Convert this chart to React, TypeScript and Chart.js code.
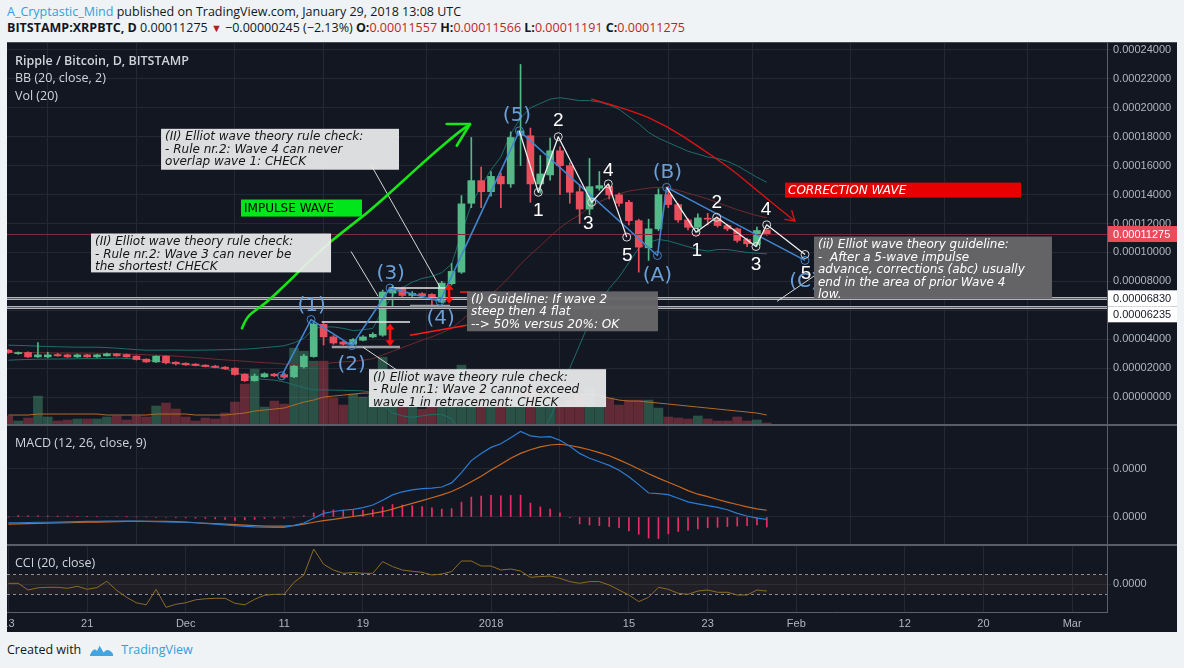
import React, { useEffect, useRef } from 'react';
import { Chart, registerables } from 'chart.js';

Chart.register(...registerables);
Chart.defaults.font.family = '"Liberation Sans", Arial, sans-serif';

// ---------------- DATA ----------------
// Day index: 0 = 1 Jan 2018. Daily candles from 13 Nov 2017 (-49) to 29 Jan 2018 (28).
// Prices in units of 1e-5 BTC.
const dayIndex: number[] = Array.from({ length: 78 }, (_, i) => i - 49);

const xTickDays = [-49, -41, -31, -21, -13, 0, 14, 22, 31, 42, 50, 59];
const xTickLabels = ['13', '21', 'Dec', '11', '19', '2018', '15', '23', 'Feb', '12', '20', 'Mar'];

const priceTicks = [0, 2, 4, 6, 8, 10, 12, 14, 16, 18, 20, 22, 24];
const macdTicks = [0, 2];
const cciTicks = [0];

const opens = [
  3.24, 3.0, 3.08, 2.78, 2.78, 2.94, 2.92, 2.78, 2.92, 2.78,
  2.85, 2.99, 2.94, 2.83, 2.62, 2.43, 2.83, 2.41, 2.34, 2.28,
  2.21, 2.14, 2.07, 2.0, 1.59, 1.13, 1.4, 1.59, 1.55, 1.4,
  2.09, 2.8, 5.03, 4.16, 3.81, 3.66, 3.93, 4.16, 4.28, 7.2,
  7.5, 7.03, 7.15, 7.1, 6.57, 7.84, 8.64, 13.4, 14.97, 14.2,
  15.26, 14.74, 18.1, 18.07, 14.74, 15.36, 17.03, 16.0, 14.2, 13.0,
  14.44, 14.55, 13.98, 13.47, 12.2, 10.32, 11.63, 14.0, 13.31, 12.25,
  11.74, 12.35, 12.32, 11.86, 11.63, 10.9, 10.55, 11.557,
];
const highs = [
  3.3, 3.12, 3.12, 3.77, 3.1, 3.02, 2.98, 2.98, 2.96, 2.95,
  3.05, 3.02, 2.98, 2.86, 2.65, 2.86, 2.86, 2.45, 2.37, 2.31,
  2.24, 2.2, 2.1, 2.03, 1.62, 1.6, 1.68, 1.63, 1.6, 2.2,
  2.95, 5.2, 5.1, 4.25, 3.88, 4.05, 4.25, 4.45, 7.4, 7.72,
  7.6, 7.3, 7.22, 7.15, 8.0, 9.24, 13.93, 17.95, 15.9, 15.6,
  15.5, 18.34, 23.0, 18.6, 16.7, 17.9, 17.3, 16.2, 14.7, 16.5,
  15.6, 14.7, 14.1, 13.6, 12.3, 12.3, 14.4, 14.55, 13.4, 12.35,
  12.67, 12.7, 12.45, 11.95, 11.7, 11.0, 11.75, 11.566,
];
const lows = [
  3.02, 2.96, 2.74, 2.74, 2.72, 2.82, 2.74, 2.74, 2.75, 2.75,
  2.82, 2.82, 2.75, 2.56, 2.4, 2.4, 2.3, 2.22, 2.19, 2.15,
  2.08, 2.02, 1.92, 1.52, 1.08, 1.1, 1.36, 1.42, 1.3, 1.35,
  2.0, 2.75, 3.6, 3.65, 3.6, 3.59, 3.88, 4.1, 4.2, 6.23,
  6.95, 6.95, 6.95, 6.2, 6.5, 7.75, 8.55, 13.1, 13.1, 13.9,
  13.1, 14.5, 16.0, 13.47, 14.1, 15.0, 14.0, 13.4, 12.0, 12.6,
  14.3, 13.7, 13.2, 11.9, 8.64, 9.45, 11.5, 13.1, 12.1, 11.55,
  11.4, 11.9, 11.75, 11.5, 10.7, 10.4, 10.41, 11.191,
];
const closes = [
  3.08, 3.08, 2.78, 2.92, 2.92, 2.85, 2.78, 2.92, 2.78, 2.92,
  2.99, 2.85, 2.78, 2.6, 2.43, 2.83, 2.37, 2.3, 2.23, 2.19,
  2.11, 2.05, 1.95, 1.56, 1.13, 1.45, 1.61, 1.47, 1.38, 2.14,
  2.83, 5.03, 4.16, 3.74, 3.66, 3.98, 4.16, 4.34, 7.26, 7.57,
  7.03, 7.17, 7.01, 6.74, 7.88, 8.69, 13.36, 14.97, 14.2, 15.26,
  14.74, 17.95, 18.4, 14.74, 15.43, 17.03, 16.0, 14.16, 13.0, 14.55,
  14.62, 13.98, 13.4, 12.2, 10.37, 11.63, 14.0, 13.31, 12.25, 11.74,
  12.39, 12.3, 11.86, 11.63, 10.83, 10.6, 11.52, 11.275,
];
// Volume (millions XRP, scaled units)
const volumes = [
  9, 4, 7, 29, 8, 4, 5, 6, 6, 6,
  8, 9, 5, 9, 8, 19, 22, 16, 8, 4,
  7, 6, 12, 23, 41, 56, 18, 24, 21, 77,
  74, 64, 64, 27, 20, 31, 28, 30, 68, 35,
  25, 28, 16, 20, 33, 45, 60, 36, 30, 30,
  24, 40, 46, 35, 24, 30, 20, 25, 30, 36,
  18, 27, 20, 25, 25, 25, 17, 8, 7, 6,
  9, 6, 4, 4, 8, 4, 5, 2,
];
const volumeMA = [
  10, 10, 10, 11, 11, 11, 11, 11, 11, 11,
  10, 10, 10, 10, 10, 11, 11, 11, 11, 10,
  10, 10, 10, 11, 12, 14, 15, 16, 17, 20,
  23, 25, 28, 29, 30, 31, 32, 32, 34, 35,
  35, 35, 34, 34, 35, 35, 36, 36, 35, 34,
  33, 31, 32, 32, 31, 31, 30, 30, 30, 31,
  30, 27, 25, 24, 24, 23, 22, 21, 20, 19,
  18, 17, 16, 15, 14, 13, 12, 10,
];
const bbUpper = [
  3.59, 3.57, 3.55, 3.52, 3.5, 3.48, 3.46, 3.45, 3.45, 3.45,
  3.42, 3.38, 3.33, 3.28, 3.24, 3.24, 3.25, 3.25, 3.24, 3.24,
  3.25, 3.26, 3.28, 3.3, 3.31, 3.36, 3.42, 3.48,
  3.55, 3.75, 4.05, 4.75, 4.85, 4.85, 4.75, 4.6, 4.65, 4.75,
  6.0, 7.0, 7.55, 7.95, 8.2, 8.35, 8.6, 9.2, 11.3, 13.3,
  14.6, 15.7, 16.6, 18.2, 19.3, 20.0, 20.3, 20.6, 20.7, 20.6,
  20.5, 20.5, 20.4, 20.2, 19.9, 19.4, 18.9, 18.3, 17.9, 17.6,
  17.3, 17.0, 16.8, 16.6, 16.5, 16.3, 16.0, 15.6, 15.2, 14.85,
];
const bbBasis = [
  3.1, 3.09, 3.08, 3.07, 3.06, 3.05, 3.05, 3.04, 3.04, 3.03,
  3.02, 3.0, 2.98, 2.95, 2.92, 2.9, 2.87, 2.83, 2.78, 2.73,
  2.68, 2.62, 2.57, 2.52, 2.48, 2.42, 2.38, 2.34,
  2.28, 2.24, 2.21, 2.22, 2.3, 2.38, 2.43, 2.47, 2.55, 2.65,
  2.91, 3.16, 3.42, 3.68, 3.93, 4.17, 4.44, 4.75, 5.3, 5.9,
  6.5, 7.1, 7.7, 8.4, 9.2, 9.85, 10.45, 11.1, 11.7, 12.2,
  12.6, 13.1, 13.5, 13.8, 14.05, 14.25, 14.35, 14.45, 14.5, 14.45,
  14.3, 14.1, 13.9, 13.7, 13.45, 13.2, 12.95, 12.75, 12.55, 12.4,
];
const bbLower = [
  2.55, 2.58, 2.6, 2.62, 2.63, 2.63, 2.64, 2.65, 2.66, 2.66,
  2.67, 2.69, 2.67, 2.62, 2.55, 2.48, 2.4, 2.32, 2.25, 2.2,
  2.12, 2.05, 1.95, 1.75, 1.45, 1.3, 1.22, 1.17,
  1.05, 0.85, 0.65, 0.5, 0.5, 0.48, 0.47, 0.45, 0.43, 0.3,
  -0.5, -1.1, -1.3, -1.4, -1.3, -1.2, -1.2, -1.5, -2.5, -3.5,
  -4.0, -4.3, -4.6, -5.0, -4.8, -3.5, -2.5, -1.5, 0.3, 2.0,
  3.6, 5.2, 6.6, 7.5, 8.3, 9.3, 10.3, 10.7, 10.9, 10.8,
  10.6, 10.4, 10.2, 10.1, 10.2, 10.2, 10.1, 10.0, 9.95, 9.9,
];
// MACD (units of 1e-5)
const macdLine = [
  -0.24, -0.24, -0.23, -0.22, -0.22, -0.21, -0.2, -0.19, -0.18, -0.18,
  -0.17, -0.17, -0.17, -0.17, -0.18, -0.19, -0.2, -0.21, -0.22, -0.24,
  -0.27, -0.3, -0.33, -0.36, -0.39, -0.41, -0.42, -0.43, -0.43, -0.35,
  -0.25, -0.05, 0.15, 0.23, 0.28, 0.32, 0.39, 0.5, 0.7, 0.92,
  1.05, 1.13, 1.18, 1.2, 1.25, 1.42, 1.85, 2.35, 2.65, 2.9,
  3.05, 3.3, 3.56, 3.38, 3.33, 3.35, 3.2, 2.95, 2.65, 2.45,
  2.3, 2.15, 1.95, 1.68, 1.35, 1.0, 0.97, 0.93, 0.78, 0.63,
  0.55, 0.47, 0.4, 0.3, 0.15, 0.04, -0.05, -0.1,
];
const macdSignal = [
  -0.3, -0.29, -0.28, -0.27, -0.26, -0.25, -0.24, -0.23, -0.22, -0.21,
  -0.2, -0.19, -0.18, -0.18, -0.18, -0.18, -0.18, -0.19, -0.21, -0.24,
  -0.26, -0.28, -0.3, -0.32, -0.34, -0.36, -0.38, -0.38, -0.38, -0.36,
  -0.3, -0.22, -0.15, -0.1, -0.04, 0.02, 0.08, 0.15, 0.22, 0.33,
  0.45, 0.57, 0.68, 0.8, 0.92, 1.06, 1.25, 1.47, 1.7, 1.96,
  2.2, 2.45, 2.65, 2.8, 2.92, 3.0, 3.03, 2.98, 2.9, 2.8,
  2.68, 2.55, 2.38, 2.2, 2.0, 1.8, 1.62, 1.45, 1.28, 1.1,
  0.95, 0.85, 0.73, 0.62, 0.52, 0.42, 0.34, 0.28,
];
const macdHist = [
  0.0, 0.06, 0.05, 0.05, 0.04, 0.04, 0.04, 0.03, 0.03, 0.03,
  0.02, 0.02, 0.01, 0.0, 0.0, -0.01, -0.02, -0.03, -0.04, -0.05,
  -0.06, -0.08, -0.1, -0.14, -0.12, -0.1, -0.06, -0.05, -0.05, -0.01,
  0.05, 0.17, 0.28, 0.3, 0.29, 0.27, 0.28, 0.3, 0.42, 0.52,
  0.5, 0.47, 0.43, 0.38, 0.33, 0.35, 0.62, 0.83, 0.87, 0.9,
  0.88, 0.9, 0.91, 0.58, 0.42, 0.33, 0.17, -0.03, -0.29, -0.33,
  -0.36, -0.4, -0.45, -0.58, -0.72, -0.88, -0.9, -0.7, -0.6, -0.55,
  -0.5, -0.45, -0.43, -0.4, -0.38, -0.36, -0.33, -0.42,
];
const cciValues = [
  10, 10, -57, -35, -30, -30, -40, -20, -50, -33,
  30, -60, -130, -185, -205, -50, -230, -200, -185, -155,
  -145, -140, -140, -190, -205, -150, -110, -100, -100, 20,
  93, 353, 200, 143, 110, 117, 110, 110, 227, 177,
  143, 130, 120, 93, 103, 127, 233, 233, 183, 183,
  143, 153, 133, 70, 77, 83, 60, 27, 10, 27,
  27, -7, -57, -107, -173, -130, -30, -50, -90, -100,
  -67, -57, -80, -80, -107, -107, -57, -67,
];
const cciUpperBand = 100;
const cciLowerBand = -100;

const lastPrice = 11.275;
const levelLines = [6.83, 6.235];

// ---------------- ANNOTATIONS (data coordinates: [day, price]) ----------------
const impulsePath: number[][] = [
  [-21.25, 1.47], [-18.27, 5.36], [-14.14, 3.56], [-10.25, 7.54], [-5.18, 6.62],
  [2.88, 18.41], [16.9, 9.79], [17.83, 14.5], [31.88, 9.45],
];
const subWavesA: number[][] = [
  [2.88, 18.41], [4.8, 14.16], [6.83, 18.0], [10.22, 13.47], [11.91, 14.74], [13.78, 11.06],
];
const subWavesC: number[][] = [
  [17.83, 14.5], [20.81, 11.4], [22.91, 12.43], [26.9, 10.41], [27.99, 11.91], [31.88, 9.86],
];
const impulseLabels: [string, number, number][] = [
  ['(1)', -18.21, 6.3], ['(2)', -14.14, 2.21], ['(3)', -10.18, 8.53], ['(4)', -5.11, 5.38],
  ['(5)', 2.64, 19.45], ['(A)', 16.89, 8.41], ['(B)', 17.9, 15.54], ['(C)', 31.78, 8.0],
];
const subLabels: [string, number, number][] = [
  ['1', 4.8, 12.9], ['2', 6.83, 19.1], ['3', 9.88, 11.98], ['4', 11.91, 15.66], ['5', 13.84, 9.79],
  ['1', 20.88, 10.14], ['2', 22.91, 13.47], ['3', 26.9, 9.17], ['4', 27.92, 12.94], ['5', 31.98, 8.53],
];
const greenArrowPath: number[][] = [
  [-25.28, 4.76], [-24.87, 5.45], [-24.16, 5.88], [-22.74, 6.57], [-20.41, 8.07], [-19.39, 8.76],
  [-16.24, 10.83], [-12.62, 12.67], [-9.24, 14.76], [-5.89, 16.83], [-3.48, 18.21], [-2.13, 18.88],
];
const greenArrowHead: number[][] = [[-4.5, 18.88], [-2.13, 18.88], [-3.48, 17.38]];
const redArrowPath: number[][] = [
  [10.22, 20.6], [14.45, 19.79], [17.84, 18.76], [21.22, 17.26], [24.6, 15.66],
  [26.8, 14.41], [28.66, 13.36], [30.86, 12.16],
];
const redArrowHead: number[][] = [[29.85, 12.28], [30.86, 12.16], [30.53, 12.9]];
const retraceArrows: number[][] = [[-10.25, 5.08, 3.52], [-4.26, 7.84, 6.46]];
const whiteRules: number[][] = [[-17.19, -8.22, 5.19], [-10.25, -4.16, 7.54]];
const grayRules: number[][] = [[-16.17, -9.24, 3.47], [-8.22, -4.16, 6.3]];
const redSegments: number[][][] = [[[-8.22, 4.28], [-2.47, 4.97]], [[-3.15, 7.26], [-2.13, 7.26]]];
const pointerLines: number[][][] = [
  [[-12.08, 15.93], [-5.18, 7.59]],
  [[-14.21, 10.07], [-11.47, 6.97]],
  [[-13.0, 3.45], [-9.54, 1.86]],
  [[32.89, 8.41], [29.04, 6.62]],
];
const noteBoxes = [
  { from: [-33.5, 18.55], to: [-9.34, 15.72], dark: false,
    text: ['(II) Elliot wave theory rule check:', '- Rule nr.2: Wave 4 can never', 'overlap wave 1: CHECK'] },
  { from: [-40.61, 11.31], to: [-16.24, 8.62], dark: false,
    text: ['(II) Elliot wave theory rule check:', '- Rule nr.2: Wave 3 can never be', 'the shortest! CHECK'] },
  { from: [-12.39, 1.93], to: [11.68, -0.69], dark: false,
    text: ['(I) Elliot wave theory rule check:', '- Rule nr.1: Wave 2 cannot exceed', 'wave 1 in retracement: CHECK'] },
  { from: [-2.44, 7.31], to: [16.95, 4.55], dark: true,
    text: ['(I) Guideline: If wave 2', 'steep then 4 flat', '--> 50% versus 20%: OK'] },
  { from: [32.79, 11.1], to: [56.95, 6.83], dark: true,
    text: ['(ii) Elliot wave theory guideline:', '-  After a 5-wave impulse', 'advance, corrections (abc) usually', 'end in the area of prior Wave 4', 'low.'] },
];
const banners = [
  { from: [-25.38, 13.66], to: [-13.1, 12.48], label: 'IMPULSE WAVE', fill: '#00e61a', color: '#000000', italic: false },
  { from: [29.85, 14.83], to: [53.81, 13.79], label: 'CORRECTION WAVE', fill: '#e60000', color: '#ffffff', italic: true },
];

// ---------------- STYLE ----------------
const BG = '#131722';
const GRID = '#242833';
const AXIS = '#5d606b';
const TICK = '#b2b5be';
const GREEN = '#53b987';
const RED = '#eb4d5c';
const xMin = -49.14;
const xMax = 62.54;

const isUp = (i: number) => closes[i] >= opens[i];

function xScale(showLabels: boolean): any {
  return {
    type: 'linear',
    min: xMin,
    max: xMax,
    offset: false,
    afterBuildTicks: (s: any) => { s.ticks = xTickDays.map((v) => ({ value: v })); },
    afterFit: (s: any) => { s.paddingLeft = 0; s.paddingRight = 0; s.height = showLabels ? 20 : 0; },
    grid: { color: GRID, drawTicks: false },
    border: { display: showLabels, color: AXIS },
    ticks: {
      display: showLabels, autoSkip: false, maxRotation: 0, color: TICK, padding: 5,
      font: { size: 11 },
      callback: (v: any) => { const k = xTickDays.indexOf(Number(v)); return k >= 0 ? xTickLabels[k] : ''; },
    },
  };
}
function yScale(min: number, max: number, ticks: number[], fmt: (v: number) => string): any {
  return {
    type: 'linear', position: 'right', min, max,
    afterBuildTicks: (s: any) => { s.ticks = ticks.map((v) => ({ value: v })); },
    afterFit: (s: any) => { s.width = 70; s.paddingTop = 0; s.paddingBottom = 0; },
    grid: { color: GRID, drawTicks: true, tickLength: 4 },
    border: { display: true, color: AXIS },
    ticks: { color: TICK, padding: 2, font: { size: 11 }, callback: (v: any) => fmt(Number(v)) },
  };
}
const baseOptions = { responsive: false, animation: false as const, events: [] as any[], layout: { padding: 0 },
  plugins: { legend: { display: false }, tooltip: { enabled: false } } };

function paneTitle(lines: { text: string; bold?: boolean }[]) {
  return {
    id: 'paneTitle',
    afterDraw(chart: any) {
      const ctx = chart.ctx;
      ctx.save();
      ctx.fillStyle = '#d1d4dc';
      ctx.textBaseline = 'middle';
      ctx.textAlign = 'left';
      lines.forEach((l, i) => {
        ctx.font = `${l.bold ? '600 ' : ''}12.5px "Open Sans"`;
        ctx.fillText(l.text, 8, 18 + i * 17.5);
      });
      ctx.restore();
    },
  };
}

function smooth(ctx: any, pts: number[][]) {
  ctx.beginPath();
  ctx.moveTo(pts[0][0], pts[0][1]);
  for (let i = 1; i < pts.length - 1; i++) {
    const mx = (pts[i][0] + pts[i + 1][0]) / 2;
    const my = (pts[i][1] + pts[i + 1][1]) / 2;
    ctx.quadraticCurveTo(pts[i][0], pts[i][1], mx, my);
  }
  const l = pts[pts.length - 1];
  ctx.lineTo(l[0], l[1]);
  ctx.stroke();
}
function poly(ctx: any, pts: number[][]) {
  ctx.beginPath();
  pts.forEach((p, i) => (i ? ctx.lineTo(p[0], p[1]) : ctx.moveTo(p[0], p[1])));
  ctx.stroke();
}

const priceOverlay = {
  id: 'priceOverlay',
  afterDatasetsDraw(chart: any) {
    const { ctx, chartArea: a, scales } = chart;
    const X = (d: number) => scales.x.getPixelForValue(d);
    const Y = (v: number) => scales.y.getPixelForValue(v);
    const P = (pts: number[][]) => pts.map((p) => [X(p[0]), Y(p[1])]);
    ctx.save();
    ctx.beginPath();
    ctx.rect(a.left, a.top, a.right - a.left, a.bottom - a.top);
    ctx.clip();

    // last price line
    ctx.strokeStyle = '#7f2a36';
    ctx.lineWidth = 1;
    const yl = Math.round(Y(lastPrice)) + 0.5;
    ctx.beginPath(); ctx.moveTo(a.left, yl); ctx.lineTo(a.right, yl); ctx.stroke();

    // horizontal level lines
    levelLines.forEach((v) => {
      const y = Math.round(Y(v)) + 0.5;
      ctx.strokeStyle = '#b4b6bc'; ctx.lineWidth = 3;
      ctx.beginPath(); ctx.moveTo(a.left, y); ctx.lineTo(a.right, y); ctx.stroke();
      ctx.strokeStyle = '#5a5c64'; ctx.lineWidth = 1;
      ctx.beginPath(); ctx.moveTo(a.left, y); ctx.lineTo(a.right, y); ctx.stroke();
    });

    // measurement rules
    ctx.lineWidth = 1.5; ctx.strokeStyle = '#e8e8e8';
    whiteRules.forEach(([d1, d2, v]) => poly(ctx, [[X(d1), Y(v)], [X(d2), Y(v)]]));
    ctx.lineWidth = 2.5; ctx.strokeStyle = '#9c9ea4';
    grayRules.forEach(([d1, d2, v]) => poly(ctx, [[X(d1), Y(v)], [X(d2), Y(v)]]));
    ctx.lineWidth = 1.5; ctx.strokeStyle = '#ff1a1a';
    redSegments.forEach((s) => poly(ctx, P(s)));

    // pointer lines
    ctx.lineWidth = 1; ctx.strokeStyle = 'rgba(235,235,235,0.9)';
    pointerLines.forEach((s) => poly(ctx, P(s)));

    // green impulse arrow
    ctx.lineCap = 'round'; ctx.lineJoin = 'round';
    ctx.strokeStyle = '#17e617'; ctx.lineWidth = 2.6;
    smooth(ctx, P(greenArrowPath));
    poly(ctx, P(greenArrowHead));

    // red correction arrow
    ctx.strokeStyle = '#e31212'; ctx.lineWidth = 1.3;
    smooth(ctx, P(redArrowPath));
    poly(ctx, P(redArrowHead));
    ctx.lineCap = 'butt';

    // wave paths
    const circles = (pts: number[][], color: string) => {
      ctx.strokeStyle = color; ctx.lineWidth = 1;
      pts.forEach((p) => { ctx.beginPath(); ctx.arc(p[0], p[1], 4, 0, Math.PI * 2); ctx.stroke(); });
    };
    ctx.strokeStyle = '#3f86cf'; ctx.lineWidth = 1.6;
    poly(ctx, P(impulsePath));
    circles(P(impulsePath), '#3f86cf');
    ctx.strokeStyle = '#f0f0f0'; ctx.lineWidth = 1.3;
    poly(ctx, P(subWavesA));
    poly(ctx, P(subWavesC));
    circles(P(subWavesA.slice(1)), '#d8d8d8');
    circles(P(subWavesC.slice(1)), '#d8d8d8');

    // red retracement double arrows
    ctx.strokeStyle = '#ff1010'; ctx.fillStyle = '#ff1010'; ctx.lineWidth = 2.5;
    retraceArrows.forEach(([d, v1, v2]) => {
      const x = X(d), y1 = Y(v1), y2 = Y(v2);
      poly(ctx, [[x, y1 + 4], [x, y2 - 4]]);
      ctx.beginPath(); ctx.moveTo(x, y1); ctx.lineTo(x - 4.5, y1 + 6); ctx.lineTo(x + 4.5, y1 + 6); ctx.closePath(); ctx.fill();
      ctx.beginPath(); ctx.moveTo(x, y2); ctx.lineTo(x - 4.5, y2 - 6); ctx.lineTo(x + 4.5, y2 - 6); ctx.closePath(); ctx.fill();
    });

    // wave labels
    ctx.textAlign = 'center'; ctx.textBaseline = 'middle';
    ctx.font = '20px "DejaVu Sans"';
    ctx.fillStyle = '#6a9fd8';
    impulseLabels.forEach(([t, d, v]) => ctx.fillText(t, X(d), Y(v)));
    ctx.fillStyle = '#ffffff';
    ctx.font = '19px "Liberation Sans"';
    subLabels.forEach(([t, d, v]) => ctx.fillText(t, X(d), Y(v)));

    // note boxes
    ctx.textAlign = 'left';
    ctx.font = 'italic 12px "DejaVu Sans"';
    noteBoxes.forEach((b) => {
      const x1 = X(b.from[0]), y1 = Y(b.from[1]), x2 = X(b.to[0]), y2 = Y(b.to[1]);
      ctx.fillStyle = b.dark ? 'rgba(104,104,106,0.96)' : 'rgba(236,237,238,0.93)';
      ctx.fillRect(x1, y1, x2 - x1, y2 - y1);
      ctx.fillStyle = b.dark ? '#ffffff' : '#151515';
      b.text.forEach((t, i) => ctx.fillText(t, x1 + 4, y1 + 8.5 + i * 12.5));
    });

    // banners
    banners.forEach((b) => {
      const x1 = X(b.from[0]), y1 = Y(b.from[1]), x2 = X(b.to[0]), y2 = Y(b.to[1]);
      ctx.fillStyle = b.fill;
      ctx.fillRect(x1, y1, x2 - x1, y2 - y1);
      ctx.fillStyle = b.color;
      ctx.font = `${b.italic ? 'italic ' : ''}12px "DejaVu Sans"`;
      ctx.fillText(b.label, x1 + 3, (y1 + y2) / 2 + 0.5);
    });
    ctx.restore();
  },
  afterDraw(chart: any) {
    const { ctx, chartArea: a, scales } = chart;
    const Y = (v: number) => scales.y.getPixelForValue(v);
    const tags = [
      { v: lastPrice, bg: '#ea4c5a', fg: '#ffffff' },
      { v: levelLines[0], bg: '#ffffff', fg: '#131722' },
      { v: levelLines[1], bg: '#ffffff', fg: '#131722' },
    ].map((t) => ({ ...t, y: Y(t.v) })).sort((p, q) => p.y - q.y);
    for (let i = 1; i < tags.length; i++) if (tags[i].y < tags[i - 1].y + 16) tags[i].y = tags[i - 1].y + 16;
    ctx.save();
    ctx.font = '11px "Liberation Sans"';
    ctx.textBaseline = 'middle'; ctx.textAlign = 'left';
    tags.forEach((t) => {
      ctx.fillStyle = t.bg;
      ctx.fillRect(a.right + 1, t.y - 8, chart.width - a.right - 1, 16);
      ctx.fillStyle = t.fg;
      ctx.fillText((t.v * 1e-5).toFixed(8), a.right + 6, t.y + 0.5);
    });
    ctx.restore();
  },
};

const cciBand = {
  id: 'cciBand',
  beforeDatasetsDraw(chart: any) {
    const { ctx, chartArea: a, scales } = chart;
    const yU = scales.y.getPixelForValue(cciUpperBand);
    const yL = scales.y.getPixelForValue(cciLowerBand);
    ctx.save();
    ctx.fillStyle = 'rgba(150,120,80,0.09)';
    ctx.fillRect(a.left, yU, a.right - a.left, yL - yU);
    ctx.strokeStyle = '#8a8d96'; ctx.lineWidth = 1; ctx.setLineDash([3, 3]);
    [yU, yL].forEach((y) => { const yy = Math.round(y) + 0.5; ctx.beginPath(); ctx.moveTo(a.left, yy); ctx.lineTo(a.right, yy); ctx.stroke(); });
    ctx.restore();
  },
};

function priceConfig(): any {
  const pts = (arr: number[]) => dayIndex.map((d, i) => ({ x: d, y: arr[i] }));
  const line = (label: string, arr: number[], color: string, order: number, axis = 'y') => ({
    type: 'line', label, data: pts(arr), borderColor: color, borderWidth: 1, pointRadius: 0, tension: 0, yAxisID: axis, order,
  });
  return {
    type: 'bar',
    data: {
      datasets: [
        { type: 'bar', label: 'Body', data: dayIndex.map((d, i) => ({ x: d, y: [opens[i], closes[i]] })),
          backgroundColor: dayIndex.map((_, i) => (isUp(i) ? GREEN : RED)), barThickness: 7, grouped: false,
          minBarLength: 1, borderSkipped: false, yAxisID: 'y', order: 0 },
        { type: 'bar', label: 'Wick', data: dayIndex.map((d, i) => ({ x: d, y: [lows[i], highs[i]] })),
          backgroundColor: dayIndex.map((_, i) => (isUp(i) ? GREEN : RED)), barThickness: 1, grouped: false,
          yAxisID: 'y', order: 1 },
        line('BB upper', bbUpper, '#1d6e6b', 2),
        line('BB lower', bbLower, '#1d6e6b', 2),
        line('BB basis', bbBasis, '#702b2e', 2),
        line('Vol MA', volumeMA, '#b36a2a', 3, 'vol'),
        { type: 'bar', label: 'Volume', data: pts(volumes),
          backgroundColor: dayIndex.map((_, i) => (isUp(i) ? 'rgba(83,185,135,0.36)' : 'rgba(235,77,92,0.36)')),
          barThickness: 9, grouped: false, yAxisID: 'vol', order: 4 },
      ],
    },
    options: {
      ...baseOptions,
      scales: {
        x: xScale(false),
        y: yScale(-1.931, 24.483, priceTicks, (v) => (v * 1e-5).toFixed(8)),
        vol: { type: 'linear', display: false, min: 0, max: 383 },
      },
    },
    plugins: [priceOverlay, paneTitle([{ text: 'Ripple / Bitcoin, D, BITSTAMP', bold: true }, { text: 'BB (20, close, 2)' }, { text: 'Vol (20)' }])],
  };
}

function macdConfig(): any {
  const pts = (arr: number[]) => dayIndex.map((d, i) => ({ x: d, y: arr[i] }));
  return {
    type: 'bar',
    data: {
      datasets: [
        { type: 'line', label: 'MACD', data: pts(macdLine), borderColor: '#2c7cd0', borderWidth: 1.2, pointRadius: 0, order: 0 },
        { type: 'line', label: 'Signal', data: pts(macdSignal), borderColor: '#c8681f', borderWidth: 1.2, pointRadius: 0, order: 1 },
        { type: 'bar', label: 'Histogram', data: pts(macdHist), backgroundColor: '#ec2a66', barThickness: 1, grouped: false, order: 2 },
      ],
    },
    options: {
      ...baseOptions,
      scales: { x: xScale(false), y: yScale(-1.167, 3.833, macdTicks, () => '0.0000') },
    },
    plugins: [paneTitle([{ text: 'MACD (12, 26, close, 9)' }])],
  };
}

function cciConfig(): any {
  return {
    type: 'line',
    data: {
      datasets: [
        { label: 'CCI', data: dayIndex.map((d, i) => ({ x: d, y: cciValues[i] })), borderColor: '#8f6c25', borderWidth: 1, pointRadius: 0, tension: 0 },
      ],
    },
    options: {
      ...baseOptions,
      scales: { x: xScale(true), y: yScale(-277, 393, cciTicks, () => '0.0000') },
    },
    plugins: [cciBand, paneTitle([{ text: 'CCI (20, close)' }])],
  };
}

export default function App() {
  const priceRef = useRef<HTMLCanvasElement>(null);
  const macdRef = useRef<HTMLCanvasElement>(null);
  const cciRef = useRef<HTMLCanvasElement>(null);

  useEffect(() => {
    document.body.style.margin = '0';
    const charts = [
      new Chart(priceRef.current as HTMLCanvasElement, priceConfig()),
      new Chart(macdRef.current as HTMLCanvasElement, macdConfig()),
      new Chart(cciRef.current as HTMLCanvasElement, cciConfig()),
    ];
    return () => charts.forEach((c) => c.destroy());
  }, []);

  const red = { color: '#c41e24' };
  const sep = (top: number) => (
    <div style={{ position: 'absolute', left: 0, top, width: 1170, height: 2, background: '#5a5d68' }} />
  );

  return (
    <div style={{ position: 'relative', width: 1184, height: 668, background: '#f0f3f6', overflow: 'hidden', fontFamily: '"Open Sans", sans-serif', color: '#131722' }}>
      <div style={{ position: 'absolute', left: 7, top: 3, fontSize: 12.5, whiteSpace: 'nowrap', lineHeight: '18px' }}>
        <span style={{ color: '#2f9fe0' }}>A_Cryptastic_Mind</span> published on TradingView.com, January 29, 2018 13:08 UTC
      </div>
      <div style={{ position: 'absolute', left: 7, top: 19, fontSize: 12.5, whiteSpace: 'nowrap', lineHeight: '18px' }}>
        <b>BITSTAMP:XRPBTC, D</b> 0.00011275 <span style={{ color: '#b71c1c', fontSize: 11 }}>▼</span> −0.00000245 (−2.13%){' '}
        <b>O:</b><span style={red}>0.00011557</span> <b>H:</b><span style={red}>0.00011566</span>{' '}
        <b>L:</b><span style={red}>0.00011191</span> <b>C:</b><span style={red}>0.00011275</span>
      </div>

      <div style={{ position: 'absolute', left: 7, top: 42, width: 1170, height: 590, background: BG, borderTop: '1px solid #4a4d57', boxSizing: 'border-box' }}>
        <canvas ref={priceRef} width={1170} height={382} style={{ position: 'absolute', left: 0, top: 0, display: 'block' }} />
        <canvas ref={macdRef} width={1170} height={120} style={{ position: 'absolute', left: 0, top: 382, display: 'block' }} />
        <canvas ref={cciRef} width={1170} height={87} style={{ position: 'absolute', left: 0, top: 502, display: 'block' }} />
        {sep(381)}
        {sep(501)}
      </div>

      <div style={{ position: 'absolute', left: 7, top: 640, fontSize: 12.5, lineHeight: '20px', whiteSpace: 'nowrap', display: 'flex', alignItems: 'center' }}>
        <span>Created with</span>
        <svg width="26" height="16" viewBox="0 0 26 16" style={{ marginLeft: 8, marginRight: 6 }}>
          <path d="M1 13 C3 8 6 6 8 9 L11 3 L15 10 C17 7 21 7 24 12 L24 14 L1 14 Z" fill="#41a6df" />
          <path d="M11 3 L15 10" stroke="#ffffff" strokeWidth="1.2" fill="none" />
        </svg>
        <span style={{ color: '#2f9fe0' }}>TradingView</span>
      </div>
    </div>
  );
}
